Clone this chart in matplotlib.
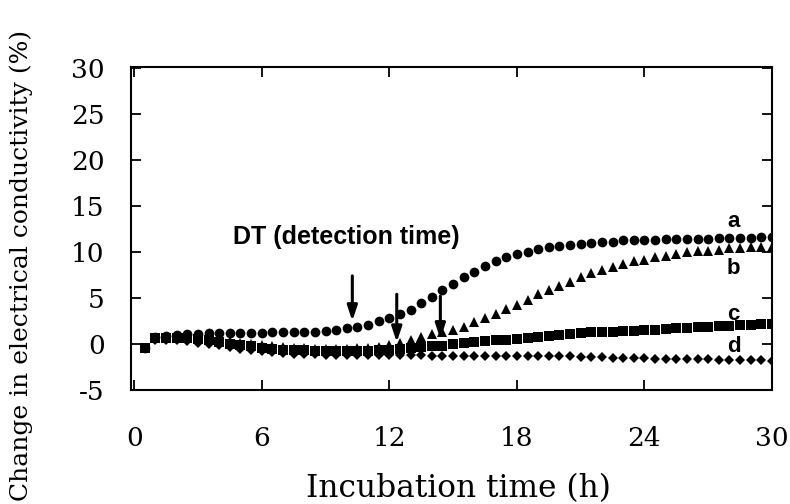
import numpy as np
import matplotlib
matplotlib.use('Agg')
import matplotlib.pyplot as plt

plt.rcParams['axes.unicode_minus'] = False

# incubation time grid (h), sampled every 30 min
hours = np.arange(0.5, 30.01, 0.5)

# change in electrical conductivity (%)
curve_a = [-0.4, 0.8, 0.9, 1.0, 1.05, 1.1, 1.15, 1.2, 1.2, 1.2,
           1.2, 1.2, 1.25, 1.25, 1.28, 1.28, 1.35, 1.43, 1.57, 1.72,
           1.9, 2.1, 2.45, 2.8, 3.3, 3.7, 4.4, 5.1, 5.85, 6.55,
           7.25, 7.8, 8.5, 9.0, 9.4, 9.8, 10.0, 10.3, 10.5, 10.6,
           10.8, 10.9, 11.0, 11.05, 11.1, 11.25, 11.3, 11.3, 11.34, 11.38,
           11.38, 11.38, 11.45, 11.45, 11.48, 11.48, 11.56, 11.56, 11.62, 11.67]
curve_b = [-0.4, 0.7, 0.75, 0.8, 0.85, 0.85, 0.75, 0.6, 0.35, 0.15,
           0.0, -0.15, -0.25, -0.35, -0.4, -0.45, -0.5, -0.5, -0.5, -0.5,
           -0.45, -0.4, -0.3, -0.1, 0.15, 0.45, 0.75, 1.05, 1.3, 1.57,
           1.9, 2.38, 2.8, 3.3, 3.77, 4.28, 4.76, 5.38, 5.86, 6.3,
           6.78, 7.25, 7.69, 8.05, 8.42, 8.7, 9.0, 9.15, 9.4, 9.6,
           9.8, 9.95, 10.1, 10.15, 10.25, 10.4, 10.45, 10.5, 10.5, 10.5]
curve_c = [-0.4, 0.6, 0.65, 0.65, 0.6, 0.5, 0.4, 0.25, 0.05, -0.1,
           -0.25, -0.4, -0.5, -0.6, -0.65, -0.7, -0.75, -0.75, -0.8, -0.8,
           -0.8, -0.75, -0.7, -0.65, -0.55, -0.45, -0.35, -0.25, -0.2, -0.05,
           0.1, 0.25, 0.36, 0.4, 0.47, 0.55, 0.66, 0.8, 0.84, 1.0,
           1.1, 1.2, 1.28, 1.3, 1.35, 1.37, 1.44, 1.52, 1.55, 1.63,
           1.7, 1.73, 1.81, 1.87, 1.92, 1.98, 2.06, 2.09, 2.13, 2.17]
curve_d = [-0.4, 0.4, 0.45, 0.4, 0.3, 0.15, 0.0, -0.15, -0.35, -0.5,
           -0.65, -0.8, -0.9, -1.0, -1.05, -1.1, -1.1, -1.15, -1.15, -1.2,
           -1.2, -1.2, -1.2, -1.22, -1.22, -1.25, -1.25, -1.27, -1.27, -1.27,
           -1.27, -1.27, -1.27, -1.3, -1.3, -1.3, -1.3, -1.3, -1.3, -1.32,
           -1.35, -1.37, -1.4, -1.45, -1.5, -1.52, -1.55, -1.57, -1.58, -1.6,
           -1.62, -1.65, -1.67, -1.68, -1.7, -1.72, -1.75, -1.77, -1.78, -1.8]

# detection time arrows: (time, tail, head)
dt_arrows = [(10.26, 7.4, 2.5), (12.35, 5.4, 0.2), (14.4, 5.2, 0.55)]

curve_names = ['a', 'b', 'c', 'd']
name_y = [13.3, 8.2, 3.25, -0.3]

serif = 'DejaVu Serif'
sans = 'Liberation Sans'

fig = plt.figure(figsize=(7.9, 5.04), dpi=100)
ax = fig.add_axes([131/790, 1 - 390/504, (772 - 131)/790, (390 - 67)/504])

ax.plot(hours, curve_a, 'o', color='k', ms=7, mew=0)
ax.plot(hours, curve_b, '^', color='k', ms=7.5, mew=0)
ax.plot(hours, curve_c, 's', color='k', ms=6.5, mew=0)
ax.plot(hours, curve_d, 'D', color='k', ms=5.5, mew=0)

for t, y0, y1 in dt_arrows:
    ax.annotate('', xy=(t, y1), xytext=(t, y0),
                arrowprops=dict(arrowstyle='-|>,head_length=0.9,head_width=0.3',
                                mutation_scale=10, lw=2.2, color='k',
                                shrinkA=0, shrinkB=0))

ax.text(4.65, 11.6, 'DT (detection time)', fontfamily=sans, fontweight='bold',
        fontsize=18, ha='left', va='center')

for name, yy in zip(curve_names, name_y):
    ax.text(28.2, yy, name, fontfamily=sans, fontweight='bold', fontsize=16,
            ha='center', va='center')

ax.set_xlim(-0.15, 30)
ax.set_ylim(-5, 30.1)
ax.set_xticks([0, 6, 12, 18, 24, 30])
ax.set_yticks([-5, 0, 5, 10, 15, 20, 25, 30])
ax.tick_params(direction='in', length=7.5, width=1.3, top=True, right=True,
               labelsize=19, pad=19)
ax.tick_params(axis='x', pad=26)
for lab in ax.get_xticklabels() + ax.get_yticklabels():
    lab.set_fontfamily(serif)
for sp in ax.spines.values():
    sp.set_linewidth(1.5)

fig.text(458/790, 1 - 489/504, 'Incubation time (h)', fontfamily=serif,
         fontsize=22.5, ha='center', va='center')
fig.text(21/790, 1 - 265/504, 'Change in electrical conductivity (%)',
         fontfamily=serif, fontsize=18, rotation=90, ha='center', va='center')

fig.savefig('out.png', dpi=100)
